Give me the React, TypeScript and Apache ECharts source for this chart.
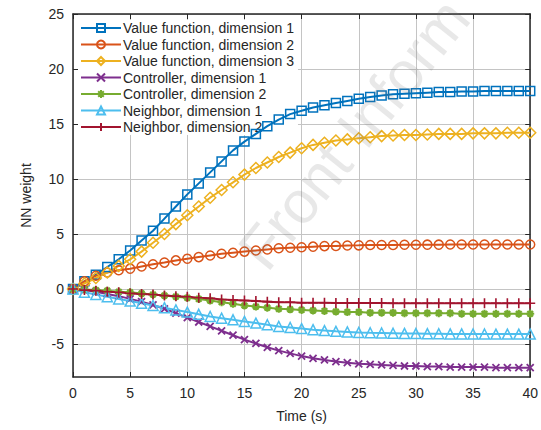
import React, { useEffect, useRef } from "react";
import * as echarts from "echarts";

const time = [0,1,2,3,4,5,6,7,8,9,10,11,12,13,14,15,16,17,18,19,20,21,22,23,24,25,26,27,28,29,30,31,32,33,34,35,36,37,38,39,40];
const yTicks = [-5, 0, 5, 10, 15, 20, 25];
const names = [
  "Value function, dimension 1",
  "Value function, dimension 2",
  "Value function, dimension 3",
  "Controller, dimension 1",
  "Controller, dimension 2",
  "Neighbor, dimension 1",
  "Neighbor, dimension 2",
];
const vf1 = [0,0.7,1.3,2.0,2.7,3.5,4.4,5.3,6.4,7.5,8.6,9.6,10.6,11.6,12.6,13.4,14.1,14.8,15.4,15.9,16.2,16.5,16.7,16.9,17.1,17.3,17.45,17.6,17.7,17.75,17.8,17.85,17.9,17.9,17.95,17.95,18.0,18.0,18.0,18.0,18.0];
const vf2 = [0,0.7,1.2,1.5,1.7,1.85,2.05,2.25,2.4,2.6,2.75,2.9,3.05,3.2,3.3,3.4,3.5,3.6,3.7,3.75,3.8,3.85,3.9,3.92,3.95,3.97,4.0,4.0,4.0,4.02,4.02,4.03,4.03,4.04,4.04,4.05,4.05,4.05,4.05,4.05,4.05];
const vf3 = [0,0.5,1.0,1.5,2.1,2.7,3.4,4.2,5.0,5.9,6.7,7.5,8.3,9.0,9.7,10.4,11.0,11.5,12.0,12.4,12.8,13.1,13.3,13.5,13.6,13.7,13.8,13.9,13.95,14.0,14.0,14.05,14.1,14.1,14.1,14.15,14.15,14.15,14.2,14.2,14.2];
const c1 = [0,-0.1,-0.25,-0.45,-0.65,-0.9,-1.15,-1.45,-1.8,-2.2,-2.6,-3.0,-3.4,-3.8,-4.2,-4.6,-4.95,-5.3,-5.6,-5.85,-6.1,-6.3,-6.45,-6.6,-6.7,-6.8,-6.85,-6.9,-6.95,-7.0,-7.0,-7.05,-7.05,-7.1,-7.1,-7.1,-7.1,-7.15,-7.15,-7.15,-7.15];
const c2 = [0,-0.05,-0.1,-0.15,-0.25,-0.3,-0.4,-0.5,-0.6,-0.7,-0.8,-0.9,-1.05,-1.2,-1.35,-1.5,-1.6,-1.7,-1.8,-1.85,-1.9,-1.95,-2.0,-2.05,-2.1,-2.1,-2.15,-2.15,-2.15,-2.2,-2.2,-2.2,-2.2,-2.2,-2.25,-2.25,-2.25,-2.25,-2.25,-2.25,-2.25];
const n1 = [0,-0.3,-0.5,-0.7,-0.9,-1.1,-1.3,-1.5,-1.7,-1.9,-2.1,-2.3,-2.5,-2.65,-2.8,-2.95,-3.1,-3.25,-3.4,-3.5,-3.6,-3.7,-3.78,-3.85,-3.9,-3.95,-3.98,-4.0,-4.02,-4.04,-4.05,-4.06,-4.07,-4.08,-4.08,-4.09,-4.09,-4.1,-4.1,-4.1,-4.1];
const n2 = [0,-0.1,-0.15,-0.25,-0.3,-0.4,-0.45,-0.5,-0.6,-0.65,-0.7,-0.8,-0.85,-0.95,-1.0,-1.05,-1.1,-1.15,-1.2,-1.2,-1.25,-1.25,-1.25,-1.27,-1.27,-1.28,-1.28,-1.28,-1.29,-1.29,-1.3,-1.3,-1.3,-1.3,-1.3,-1.3,-1.3,-1.3,-1.3,-1.3,-1.3];

const seriesData = [vf1, vf2, vf3, c1, c2, n1, n2];
const colors = ["#0072BD", "#D95319", "#EDB120", "#7E2F8E", "#77AC30", "#4DBEEE", "#A2142F"];
const symbols = [
  "rect",
  "circle",
  "diamond",
  "path://M0,0L10,10M10,0L0,10",
  "path://M5,0L5,10M0,5L10,5M1.5,1.5L8.5,8.5M8.5,1.5L1.5,8.5",
  "triangle",
  "path://M5,0L5,10M0,5L10,5",
];
const symbolSizes = [9, 9, 11, 7, 8, 10, 10];
const borderWidths = [1.5, 1.5, 1.5, 1.8, 2.2, 1.5, 1.6];

const FONT = "'Liberation Sans', Arial, sans-serif";
const AXIS = "#262626";

export default function App() {
  const ref = useRef<HTMLDivElement>(null);
  useEffect(() => {
    if (!ref.current) return;
    const chart = echarts.init(ref.current, null, { renderer: "svg" });
    const series: any[] = seriesData.map((d, i) => ({
      name: names[i],
      type: "line",
      data: time.map((t, j) => [t, d[j]]),
      symbol: symbols[i],
      symbolSize: symbolSizes[i],
      showAllSymbol: true,
      lineStyle: { color: colors[i], width: 2 },
      itemStyle: { color: "rgba(0,0,0,0)", borderColor: colors[i], borderWidth: borderWidths[i] },
      z: 6,
    }));
    const xAxisCommon = {
      type: "value",
      min: 0,
      max: 40,
      interval: 5,
      axisLine: { show: true, onZero: false, lineStyle: { color: AXIS, width: 1.5 } },
      axisTick: { show: true, inside: true, length: 5, lineStyle: { color: AXIS } },
    };
    const yAxisCommon = {
      type: "value",
      min: -8,
      max: 25,
      axisLine: { show: true, onZero: false, lineStyle: { color: AXIS, width: 1.5 } },
      axisTick: { show: true, inside: true, length: 5, customValues: yTicks, lineStyle: { color: AXIS } },
    };
    chart.setOption({
      animation: false,
      textStyle: { fontFamily: FONT },
      grid: { left: 73, right: 2, top: 14, bottom: 53, containLabel: false },
      legend: {
        orient: "vertical",
        left: 78,
        top: 20,
        z: 4,
        itemWidth: 40,
        itemHeight: 10,
        itemGap: 2.5,
        padding: [1, 4, 1, 2],
        backgroundColor: "#ffffff",
        textStyle: { fontSize: 14, color: "#262626", fontFamily: FONT, lineHeight: 14, padding: [0, 0, 0, -3] },
        data: names,
      },
      xAxis: [
        {
          ...xAxisCommon,
          position: "bottom",
          name: "Time (s)",
          nameLocation: "middle",
          nameGap: 32,
          nameTextStyle: { fontSize: 14, color: AXIS, fontFamily: FONT },
          axisLabel: { fontSize: 14, color: AXIS, margin: 9, fontFamily: FONT },
          splitLine: { show: true, lineStyle: { color: "#c4c4c4", width: 1 } },
        },
        {
          ...xAxisCommon,
          position: "top",
          axisLabel: { show: false },
          splitLine: { show: false },
        },
      ],
      yAxis: [
        {
          ...yAxisCommon,
          position: "left",
          name: "NN weight",
          nameLocation: "middle",
          nameGap: 40,
          nameTextStyle: { fontSize: 14, color: AXIS, fontFamily: FONT },
          axisLabel: { fontSize: 14, color: AXIS, margin: 9, customValues: yTicks, fontFamily: FONT },
          splitLine: { show: true, lineStyle: { color: "#c4c4c4", width: 1 } },
        },
        {
          ...yAxisCommon,
          position: "right",
          axisLabel: { show: false },
          splitLine: { show: false },
        },
      ],
      graphic: [
        {
          type: "text",
          x: 228,
          y: 242,
          rotation: (51 * Math.PI) / 180,
          z: 10,
          style: {
            text: "Front Inform",
            fontSize: 60,
            fontFamily: FONT,
            fill: "rgba(120,120,120,0.17)",
          },
        },
      ],
      series,
    });
    return () => chart.dispose();
  }, []);
  return <div ref={ref} style={{ width: 541, height: 430, position: "absolute", left: 0, top: 0 }} />;
}
